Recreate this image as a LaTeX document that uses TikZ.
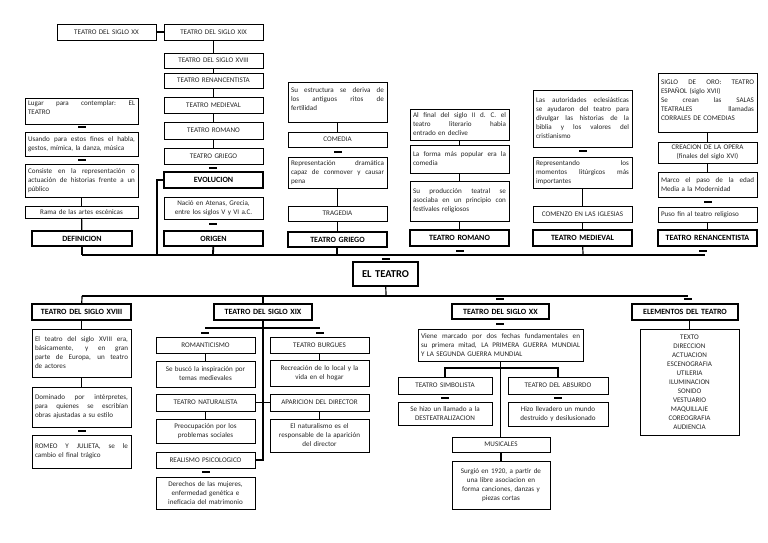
\documentclass[tikz,border=0pt]{standalone}
\usepackage{fontspec}
\setmainfont{Carlito}
\newcommand\bx[8]{%
 \pgfmathsetmacro\bxw{#4-#2}\pgfmathsetmacro\bxh{#5-#3}%
 \pgfmathsetmacro\bxtw{#4-#2-6}%
 \node[#6, minimum width=\bxw pt, minimum height=\bxh pt] (#1) at ({(#2+#4)/2},{(#3+#5)/2}) {};
 \node[txt, text width=\bxtw pt, #7] at (#1.center) {#8};}
\newcommand\jl[1]{\leavevmode\hbox to \bxtw pt{\spaceskip=.22em plus 1fil\relax\xspaceskip=.25em plus 1fil\relax #1}\\}
\newcommand\dm[2]{\draw[mk] ({#1-4},#2) -- ({#1+4},#2);}
\begin{document}
\begin{tikzpicture}[x=1pt,y=-1pt,
 thin/.style={draw, line width=0.9pt, inner sep=0pt, outer sep=0pt},
 thk/.style={draw, line width=1.8pt, inner sep=0pt, outer sep=0pt},
 txt/.style={inner sep=0pt, font=\fontsize{7.1}{9}\selectfont, align=center, text=black!85},
 lt/.style={align=left},
 bt/.style={font=\fontsize{8}{9.5}\selectfont\bfseries, text=black},
 ln/.style={line width=1.2pt},
 lnt/.style={line width=1.8pt},
 mk/.style={line width=1.5pt}]
\useasboundingbox[fill=white] (0,0) rectangle (768,543);
% ---- top chain
\bx{a1}{57}{24}{156}{40}{thin}{}{TEATRO DEL SIGLO XX}
\bx{a2}{164}{24}{263}{40}{thin}{}{TEATRO DEL SIGLO XIX}
\bx{a3}{164}{53}{263}{68}{thin}{}{TEATRO DEL SIGLO XVIII}
\bx{a4}{164}{73}{263}{88}{thin}{}{TEATRO RENANCENTISTA}
\bx{a5}{164}{97}{263}{113}{thin}{}{TEATRO MEDIEVAL}
\bx{a6}{164}{122}{263}{139}{thin}{}{TEATRO ROMANO}
\bx{a7}{164}{148}{263}{164}{thin}{}{TEATRO GRIEGO}
\bx{a8}{164}{172}{263}{188}{thk}{bt}{EVOLUCION}
\bx{a9}{164}{197}{263}{219}{thin}{}{Nació en Atenas, Grecia,\\entre los siglos V y VI a.C.}
\bx{a10}{164}{231}{263}{246}{thk}{bt}{ORIGEN}
% ---- definicion
\bx{l1}{25}{98}{138}{124}{thin}{lt,yshift=3pt}{\jl{Lugar para contemplar: EL}TEATRO}
\bx{l2}{25}{132}{138}{156}{thin}{lt}{\jl{Usando para estos fines el habla,}gestos, mímica, la danza, música}
\bx{l3}{25}{164}{138}{197}{thin}{lt}{\jl{Consiste en la representación o}\jl{actuación de historias frente a un}público}
\bx{l4}{25}{206}{138}{218}{thin}{}{Rama de las artes escénicas}
\bx{l5}{32}{231}{132}{246}{thk}{bt}{DEFINICION}
% ---- griego
\bx{g1}{288}{82}{387}{122}{thin}{lt,yshift=3pt}{\jl{Su estructura se deriva de}\jl{los antiguos ritos de}fertilidad}
\bx{g2}{288}{132}{387}{147}{thin}{}{COMEDIA}
\bx{g3}{288}{157}{387}{188}{thin}{lt}{\jl{Representación dramática}\jl{capaz de conmover y causar}pena}
\bx{g4}{288}{206}{387}{221}{thin}{}{TRAGEDIA}
\bx{g5}{288}{232}{387}{247}{thk}{bt}{TEATRO GRIEGO}
% ---- romano
\bx{r1}{410}{109}{509}{140}{thin}{lt}{\jl{Al final del siglo II d. C. el}\jl{teatro literario habia}entrado en declive}
\bx{r2}{410}{145}{509}{173}{thin}{lt}{\jl{La forma más popular era la}comedia}
\bx{r3}{410}{181}{509}{221}{thin}{lt}{\jl{Su producción teatral se}\jl{asociaba en un principio con}festivales religiosos}
\bx{r4}{410}{230}{509}{246}{thk}{bt}{TEATRO ROMANO}
% ---- medieval
\bx{m1}{533}{90}{632}{147}{thin}{lt}{\jl{Las autoridades eclesiásticas}\jl{se ayudaron del teatro para}\jl{divulgar las historias de la}\jl{biblia y los valores del}cristianismo}
\bx{m2}{533}{157}{632}{188}{thin}{lt}{\jl{Representando los}\jl{momentos litúrgicos más}importantes}
\bx{m3}{533}{206}{632}{222}{thin}{}{COMENZO EN LAS IGLESIAS}
\bx{m4}{533}{230}{632}{246}{thk}{bt}{TEATRO MEDIEVAL}
% ---- renacentista
\bx{n1}{658}{73}{757}{132}{thin}{lt,yshift=2pt}{\jl{SIGLO DE ORO: TEATRO}ESPAÑOL (siglo XVII)\\\jl{Se crean las SALAS}\jl{TEATRALES llamadas}CORRALES DE COMEDIAS}
\bx{n2}{658}{142}{757}{163}{thin}{}{CREACION DE LA OPERA\\(finales del siglo XVI)}
\bx{n3}{658}{172}{757}{197}{thin}{lt}{\jl{Marco el paso de la edad}Media a la Modernidad}
\bx{n4}{658}{207}{757}{222}{thin}{lt}{Puso fin al teatro religioso}
\bx{n5}{658}{230}{757}{246}{thk}{bt}{TEATRO RENANCENTISTA}
% ---- centre
\bx{et}{353}{262}{418}{286}{thk,line width=2.2pt}{font=\fontsize{10.5}{12}\selectfont\bfseries,text=black}{EL TEATRO}
% ---- siglo XVIII
\bx{b1}{32}{304}{131}{320}{thk}{bt}{TEATRO DEL SIGLO XVIII}
\bx{b2}{32}{329}{131}{377}{thin}{lt}{\jl{El teatro del siglo XVIII era,}\jl{básicamente, y en gran}\jl{parte de Europa, un teatro}de actores}
\bx{b3}{32}{387}{131}{427}{thin}{lt}{\jl{Dominado por intérpretes,}\jl{para quienes se escribían}obras ajustadas a su estilo}
\bx{b4}{32}{435}{131}{468}{thin}{lt}{\jl{ROMEO Y JULIETA, se le}cambio el final trágico}
% ---- siglo XIX
\bx{c1}{214}{304}{312}{320}{thk}{bt}{TEATRO DEL SIGLO XIX}
\bx{c2}{156}{337}{255}{353}{thin}{}{ROMANTICISMO}
\bx{c3}{156}{361}{255}{387}{thin}{}{Se buscó la inspiración por\\temas medievales}
\bx{c4}{156}{394}{255}{411}{thin}{}{TEATRO NATURALISTA}
\bx{c5}{156}{419}{255}{443}{thin}{}{Preocupación por los\\problemas sociales}
\bx{c6}{156}{452}{255}{468}{thin}{}{REALISMO PSICOLOGICO}
\bx{c7}{156}{477}{255}{509}{thin}{}{Derechos de las mujeres,\\enfermedad genética e\\ineficacia del matrimonio}
\bx{c8}{270}{337}{369}{353}{thin}{}{TEATRO BURGUES}
\bx{c9}{270}{360}{369}{386}{thin}{}{Recreación de lo local y la\\vida en el hogar}
\bx{c10}{270}{394}{369}{411}{thin}{}{APARICION DEL DIRECTOR}
\bx{c11}{270}{419}{369}{452}{thin}{}{El naturalismo es el\\responsable de la aparición\\del director}
% ---- siglo XX
\bx{d1}{452}{304}{549}{319}{thk}{bt}{TEATRO DEL SIGLO XX}
\bx{d2}{418}{329}{583}{361}{thin}{lt}{\jl{Viene marcado por dos fechas fundamentales en}\jl{su primera mitad, LA PRIMERA GUERRA MUNDIAL}Y LA SEGUNDA GUERRA MUNDIAL}
\bx{d3}{398}{377}{492}{394}{thin}{}{TEATRO SIMBOLISTA}
\bx{d4}{398}{402}{492}{425}{thin}{}{Se hizo un llamado a la\\DESTEATRALIZACION}
\bx{d5}{508}{377}{608}{394}{thin}{}{TEATRO DEL ABSURDO}
\bx{d6}{508}{402}{608}{426}{thin}{}{Hizo llevadero un mundo\\destruido y desilusionado}
\bx{d7}{452}{437}{550}{452}{thin}{}{MUSICALES}
\bx{d8}{452}{461}{550}{509}{thin}{}{Surgió en 1920, a partir de\\una libre asociacion en\\forma canciones, danzas y\\piezas cortas}
% ---- elementos
\bx{e1}{632}{304}{738}{320}{thk}{bt}{ELEMENTOS DEL TEATRO}
\bx{e2}{640}{329}{739}{435}{thin}{}{TEXTO\\DIRECCION\\ACTUACION\\ESCENOGRAFIA\\UTILERIA\\ILUMINACION\\SONIDO\\VESTUARIO\\MAQUILLAJE\\COREOGRAFIA\\AUDIENCIA}
% ---- bus coordinates
\coordinate (tbL) at (82,255);
\coordinate (tbR) at (705,255);
\coordinate (tbE) at (157,255);
\coordinate (tbO) at (213,255);
\coordinate (tbG) at (337,255);
\coordinate (tbM) at (583,255);
\coordinate (bbL) at (82,296);
\coordinate (bbC) at (386,296);
\coordinate (bbX) at (263,296);
\coordinate (bbR) at (688,296);
\coordinate (hL) at (205,328);
\coordinate (hR) at (320,328);
% ---- connectors top
\draw[ln] (a1) -- (a2);
\draw[ln] (a2) -- (a3);
\draw[ln] (a3) -- (a4);
\draw[ln] (a4) -- (a5);
\draw[ln] (a5) -- (a6);
\draw[ln] (a6) -- (a7);
\dm{213}{168}
\draw[ln] (a8.west) -| (tbE);
\dm{213}{224}
\draw[lnt] (a10) -- (tbO);
\dm{82}{127}
\dm{82}{160}
\draw[ln] (l3) -- (l4);
\draw[ln] (l4) -- (l5);
\draw[ln] (l5) -- (tbL);
\draw[lnt] (g1) -- (g2);
\dm{338}{152}
\draw[lnt] (g3) -- (g4);
\draw[lnt] (g4) -- (g5);
\draw[ln] (g5.south -| tbG) -- (tbG);
\draw[ln] (r1) -- (r2);
\draw[ln] (r2) -- (r3);
\draw[ln] (r3) -- (r4);
\dm{460}{251}
\dm{583}{151}
\draw[lnt] (m2) -- (m3);
\draw[lnt] (m3) -- (m4);
\draw[ln] (m4) -- (tbM);
\draw[ln] (n1) -- (n2);
\draw[ln] (n2) -- (n3);
\dm{708}{202}
\draw[lnt] (n4) -- (n5);
\dm{703}{251}
\draw[ln] (tbL) -- (tbR);
\dm{386}{259}
% ---- connectors bottom
\draw[ln] (et) -- (bbC);
\draw[ln] (bbL) -- (bbR);
\draw[ln] (bbL) -- (b1);
\draw[ln] (bbX) -- (c1);
\dm{500}{299}
\dm{688}{299}
\draw[ln] (b1) -- (b2);
\draw[ln] (b2) -- (b3);
\dm{82}{431}
\draw[lnt] (c1.south) |- (c6.east);
\draw[lnt] (c4.east) -- (c10.west);
\draw[ln] (hL) -- (hR);
\dm{205}{333}
\dm{320}{333}
\draw[lnt] (c2) -- (c3);
\draw[lnt] (c4) -- (c5);
\dm{206}{472}
\draw[ln] (c8) -- (c9);
\draw[ln] (c10) -- (c11);
\dm{500}{324}
\draw[lnt] (d2.south) -- (d2.south |- d7.north);
\draw[ln] (d3.north) -- ++(0,-9) -| (d5.north);
\dm{445}{398}
\dm{558}{398}
\draw[ln] (d7) -- (d8);
\draw[ln] (e2.north) -- (e2.north |- e1.south);
\end{tikzpicture}
\end{document}
